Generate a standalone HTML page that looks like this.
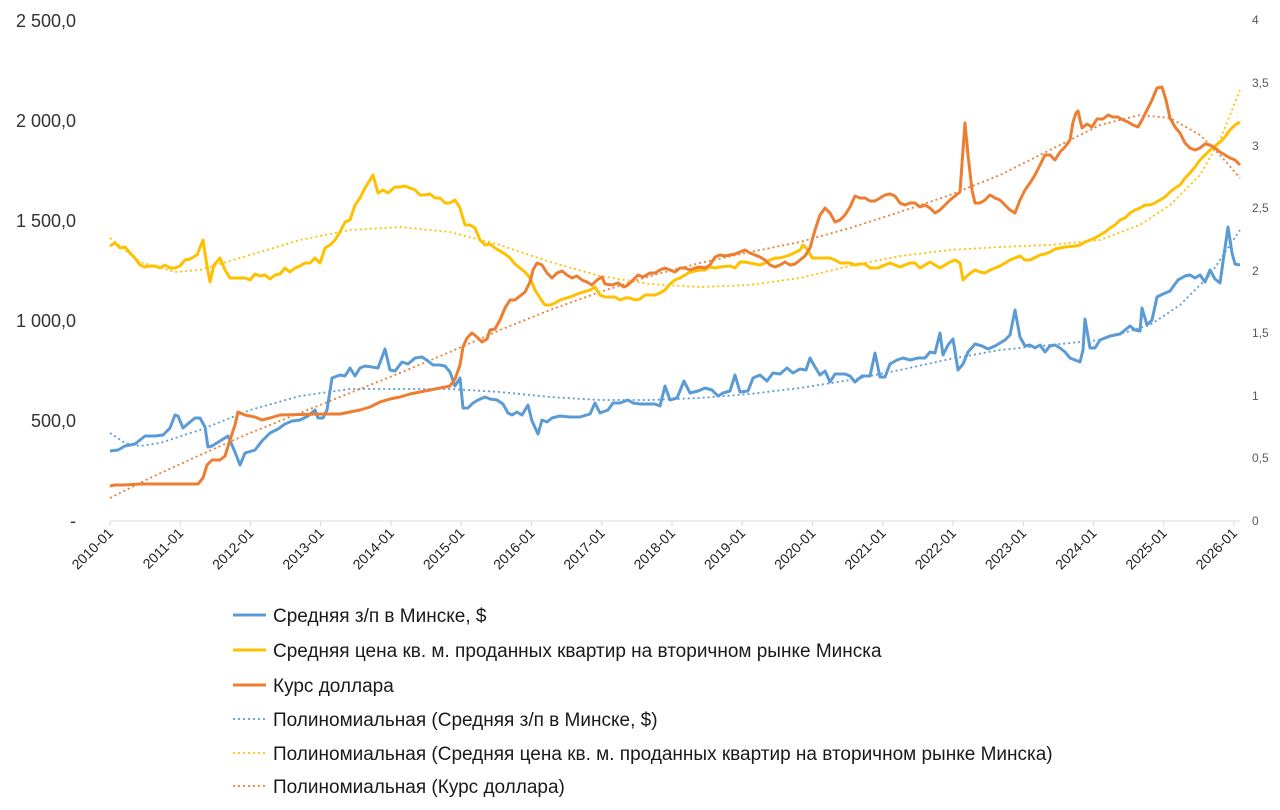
<!DOCTYPE html>
<html><head><meta charset="utf-8"><style>
body{margin:0;background:#fff;}
svg{display:block;font-family:"Liberation Sans",sans-serif;}
</style></head><body>
<svg width="1280" height="810" viewBox="0 0 1280 810">
<g fill="#333" font-size="18" text-anchor="end">
<text x="76" y="27">2 500,0</text>
<text x="76" y="127">2 000,0</text>
<text x="76" y="227">1 500,0</text>
<text x="76" y="327">1 000,0</text>
<text x="76" y="427">500,0</text>
<text x="76" y="527">-</text>
</g>
<g fill="#595959" font-size="12" text-anchor="start">
<text x="1252" y="24">4</text>
<text x="1252" y="87">3,5</text>
<text x="1252" y="150">3</text>
<text x="1252" y="212">2,5</text>
<text x="1252" y="275">2</text>
<text x="1252" y="337">1,5</text>
<text x="1252" y="400">1</text>
<text x="1252" y="462">0,5</text>
<text x="1252" y="525">0</text>
</g>
<line x1="110" y1="521" x2="1240" y2="521" stroke="#d9d9d9" stroke-width="1"/>
<g id="tk" stroke="#d9d9d9" stroke-width="1"></g>
<g id="xl" fill="#222" font-size="14" text-anchor="end"></g>
<g fill="none" stroke-width="1.8" stroke-dasharray="2 3">
<polyline stroke="#5b9bd5" points="110,433 125,443 140,446 160,443 200,430 250,410 300,396 350,389 400,389 450,389 500,392 550,397 600,400 650,400 700,398 750,394 800,388 850,380 900,370 950,359 1000,350 1050,345 1100,340 1150,325 1180,305 1210,275 1240,230"/>
<polyline stroke="#ffc000" points="110,238 140,262 175,272 200,270 250,255 300,240 350,230 400,227 450,232 500,245 550,262 600,276 650,284 700,287 750,285 800,278 850,266 900,256 950,250 1000,247 1050,245 1100,240 1140,225 1170,205 1200,175 1220,140 1240,90"/>
<polyline stroke="#ed7d31" points="110,498 150,478 200,455 250,433 300,413 350,393 400,373 450,352 500,330 550,310 600,292 650,276 700,263 750,252 800,242 850,228 900,212 950,195 1000,175 1050,150 1100,125 1140,115 1170,118 1200,135 1220,155 1240,178"/>
</g>
<g fill="none" stroke-width="3" stroke-linejoin="round">
<polyline stroke="#5b9bd5" points="110,451 118,450 125,446 135,444 145,436 155,436 163,435 170,428 175,415 178,416 183,428 190,422 195,418 200,418 205,427 208,447 212,446 220,441 228,436 235,452 240,465 245,453 255,450 262,441 270,433 278,429 285,424 292,421 300,420 308,416 315,410 318,418 323,418 327,410 332,378 340,375 345,376 350,368 355,376 360,368 365,366 372,367 378,368 385,349 390,370 395,371 402,362 408,364 415,358 422,357 428,361 433,365 440,365 445,366 450,372 455,386 460,378 463,408 468,408 473,403 478,400 485,397 490,399 497,400 503,404 508,413 512,415 517,412 522,415 528,405 532,421 538,434 542,420 547,422 552,418 560,416 570,417 580,417 590,414 595,403 600,413 608,410 613,403 620,403 628,400 633,403 640,404 650,404 655,404 660,406 665,386 670,400 677,398 684,381 690,393 698,391 705,388 712,390 718,396 723,393 730,391 735,375 740,392 748,391 753,378 760,375 767,381 773,373 780,374 787,368 793,373 800,369 806,370 810,358 815,367 820,375 825,371 830,382 835,374 840,374 845,374 850,376 855,382 862,376 870,376 875,353 880,377 885,377 890,364 897,360 903,358 910,360 918,358 925,358 930,352 935,353 940,333 943,355 948,345 953,339 958,370 963,364 968,352 975,344 982,346 988,349 995,346 1005,340 1010,335 1015,310 1020,337 1025,346 1030,345 1035,348 1040,345 1045,352 1050,346 1055,345 1060,348 1065,352 1070,358 1075,360 1080,362 1083,350 1085,319 1090,348 1095,348 1100,340 1105,338 1110,336 1120,334 1125,330 1130,326 1135,330 1140,331 1142,308 1147,325 1152,320 1157,297 1163,294 1170,291 1178,280 1185,276 1190,275 1195,278 1200,275 1205,282 1210,270 1215,279 1220,283 1225,248 1228,227 1232,253 1235,264 1240,265"/>
<polyline stroke="#ffc000" points="110,246 115,243 120,248 125,247 130,253 135,258 140,265 145,267 150,266 155,266 160,268 165,265 170,268 175,268 180,266 185,260 190,259 197,255 203,240 207,266 210,282 214,265 220,258 225,270 230,278 238,278 245,278 250,280 255,274 260,276 265,275 270,279 275,275 280,274 285,268 290,272 295,268 300,266 305,263 310,263 315,258 320,263 325,248 330,245 335,240 340,232 345,222 350,220 355,205 360,198 365,188 370,180 373,175 378,193 383,190 388,193 395,187 400,187 405,186 410,188 415,190 420,195 425,195 430,194 435,198 440,198 445,203 450,203 455,200 460,208 465,225 470,225 475,228 480,240 485,245 490,244 495,248 500,251 505,254 510,258 515,264 520,268 525,272 530,278 535,290 540,298 545,305 550,305 555,303 560,300 570,297 580,293 590,290 595,287 600,295 605,297 610,297 615,297 620,300 625,298 630,298 635,300 640,299 645,295 650,295 655,295 660,293 665,290 670,284 675,280 680,278 685,275 690,272 700,270 705,270 710,267 715,268 720,267 730,266 735,268 740,262 745,262 750,263 755,264 760,265 765,263 770,260 775,258 780,258 790,255 800,250 803,245 808,250 812,258 818,258 825,258 830,258 835,260 840,263 845,263 850,263 855,265 860,264 865,264 870,268 878,268 885,265 890,263 895,265 900,267 905,265 910,263 915,263 920,268 925,265 930,262 935,265 940,268 945,265 950,262 955,260 960,263 963,280 968,275 975,270 980,272 985,273 990,270 1000,266 1005,263 1010,260 1015,258 1020,256 1025,260 1030,260 1040,255 1045,254 1050,252 1055,249 1060,248 1065,247 1075,246 1080,245 1085,242 1090,240 1095,238 1100,235 1105,232 1110,228 1115,225 1120,220 1125,218 1130,213 1135,210 1140,208 1145,205 1150,205 1155,203 1160,200 1165,197 1170,192 1175,188 1180,185 1185,178 1190,173 1195,167 1200,160 1205,155 1210,150 1215,146 1220,142 1225,137 1230,130 1235,125 1240,122"/>
<polyline stroke="#ed7d31" points="110,486 115,485 125,485 140,484 198,484 203,478 207,465 212,460 220,460 225,456 230,440 235,425 238,412 245,415 255,417 262,420 270,418 280,415 320,414 340,414 350,412 360,410 370,407 380,402 390,399 400,397 410,394 420,392 430,390 440,388 450,386 455,379 460,365 463,347 467,338 472,333 477,337 482,342 487,339 490,330 495,329 500,320 505,308 510,300 515,300 520,296 525,292 530,282 533,270 537,263 542,265 547,273 552,278 557,273 562,271 567,275 572,278 577,276 582,280 587,282 592,285 597,280 602,277 605,284 612,285 618,283 624,287 628,285 633,280 638,275 643,277 650,273 655,273 660,270 665,268 670,270 675,272 680,268 685,268 690,270 695,268 700,267 705,268 710,265 715,257 720,255 725,256 730,255 735,254 740,252 745,250 750,253 755,255 760,257 765,260 770,265 775,267 780,265 785,262 790,265 795,264 800,260 805,256 810,248 815,230 820,215 825,208 830,213 835,222 840,220 845,215 850,207 855,196 860,198 865,198 870,201 875,201 880,198 885,195 890,194 895,196 900,203 905,205 910,203 915,203 920,207 925,205 930,208 935,213 940,210 945,205 950,200 955,196 960,192 963,150 965,123 968,155 972,190 975,203 980,203 985,200 990,195 995,198 1000,200 1005,205 1010,210 1015,213 1020,200 1025,190 1030,183 1035,175 1040,165 1045,155 1050,155 1055,160 1060,152 1065,147 1070,140 1073,122 1076,113 1078,111 1082,128 1087,124 1092,127 1097,119 1103,119 1108,115 1113,117 1118,117 1123,120 1128,122 1133,125 1138,127 1142,120 1147,110 1152,100 1157,88 1162,87 1166,100 1170,118 1175,127 1180,133 1185,143 1190,148 1195,150 1200,148 1205,144 1210,145 1215,148 1220,152 1225,155 1230,158 1235,160 1240,165"/>
</g>
<g font-size="19" fill="#1a1a1a">
<line x1="233" y1="615" x2="266" y2="615" stroke="#5b9bd5" stroke-width="3"/>
<text x="273" y="622">Средняя з/п в Минске,  $</text>
<line x1="233" y1="650" x2="266" y2="650" stroke="#ffc000" stroke-width="3"/>
<text x="273" y="657">Средняя цена кв. м. проданных квартир на вторичном рынке Минска</text>
<line x1="233" y1="685" x2="266" y2="685" stroke="#ed7d31" stroke-width="3"/>
<text x="273" y="692">Курс доллара</text>
<line x1="233" y1="719" x2="266" y2="719" stroke="#5b9bd5" stroke-width="1.8" stroke-dasharray="2 3"/>
<text x="273" y="726">Полиномиальная (Средняя з/п в Минске,  $)</text>
<line x1="233" y1="753" x2="266" y2="753" stroke="#ffc000" stroke-width="1.8" stroke-dasharray="2 3"/>
<text x="273" y="760">Полиномиальная (Средняя цена кв. м. проданных квартир на вторичном рынке Минска)</text>
<line x1="233" y1="786" x2="266" y2="786" stroke="#ed7d31" stroke-width="1.8" stroke-dasharray="2 3"/>
<text x="273" y="793">Полиномиальная (Курс доллара)</text>
</g>
</svg>
<script>
var g=document.getElementById('xl'),t=document.getElementById('tk'),s='',k='';
for(var i=0;i<=16;i++){var x=110+i*70.25;
k+='<line x1="'+x+'" y1="521" x2="'+x+'" y2="526"/>';
s+='<text transform="translate('+(x+4)+',534) rotate(-45)">'+(2010+i)+'-01</text>';}
g.innerHTML=s;t.innerHTML=k;
</script>
</body></html>
